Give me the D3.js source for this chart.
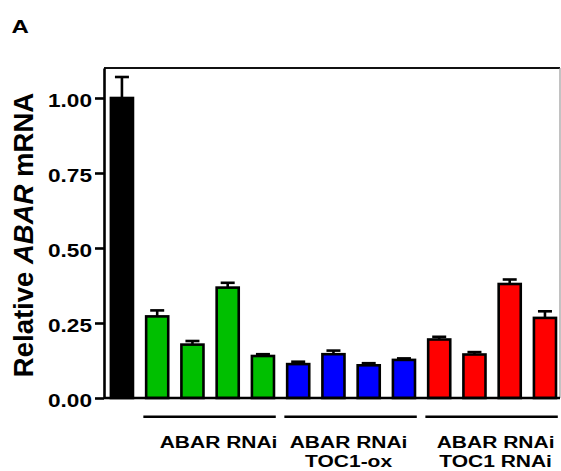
<!DOCTYPE html>
<html>
<head>
<meta charset="utf-8">
<script src="https://cdn.jsdelivr.net/npm/d3@7/dist/d3.min.js"></script>
<style>
  html, body { margin: 0; padding: 0; background: #fff; }
  svg { display: block; font-family: "Liberation Sans", Arial, Helvetica, sans-serif; }
</style>
</head>
<body>
<script>
// Samples, in plotting order
const samples = ["control", "abar-1", "abar-2", "abar-3", "abar-4",
                 "abar-ox-1", "abar-ox-2", "abar-ox-3", "abar-ox-4",
                 "abar-toc-1", "abar-toc-2", "abar-toc-3", "abar-toc-4"];
const sampleGroup = ["control", "abar", "abar", "abar", "abar",
                     "abarOx", "abarOx", "abarOx", "abarOx",
                     "abarToc", "abarToc", "abarToc", "abarToc"];
// Relative ABAR mRNA (mean) and standard error
const means = [1.00, 0.272, 0.178, 0.368, 0.140,
               0.113, 0.146, 0.109, 0.127,
               0.195, 0.145, 0.380, 0.267];
const errors = [0.07, 0.020, 0.012, 0.016, 0.006,
                0.008, 0.012, 0.007, 0.005,
                0.009, 0.008, 0.015, 0.022];
// Underlined sample groups and their labels
const groupKeys = ["abar", "abarOx", "abarToc"];
const groupLabels = [["ABAR RNAi"], ["ABAR RNAi", "TOC1-ox"], ["ABAR RNAi", "TOC1 RNAi"]];
const yTicks = [0, 0.25, 0.50, 0.75, 1.00];

const W = 561, H = 471;
const svg = d3.select("body").append("svg").attr("width", W).attr("height", H);

const color = d3.scaleOrdinal()
  .domain(["control", "abar", "abarOx", "abarToc"])
  .range(["#000000", "#00bf00", "#0000ff", "#ff0000"]);

const axisX = 104, plotRight = 560;
const x = d3.scaleBand().domain(samples).range([109.6, 557.3]).paddingInner(0.3).paddingOuter(0);
const y = d3.scaleLinear().domain([0, 1.1]).range([398, 68]);
const sw = 2.6;

// frame: top in black, right edge in grey
svg.append("line").attr("x1", axisX).attr("x2", plotRight).attr("y1", y(1.1)).attr("y2", y(1.1))
  .attr("stroke", "#111").attr("stroke-width", 2.2);
svg.append("line").attr("x1", plotRight).attr("x2", plotRight).attr("y1", y(1.1)).attr("y2", y(0))
  .attr("stroke", "#9a9a9a").attr("stroke-width", 1.2);

// error bars (upper only)
const eb = svg.append("g").attr("stroke", "#000").attr("stroke-width", sw).attr("fill", "none");
samples.forEach((s, i) => {
  const cx = x(s) + x.bandwidth() / 2;
  eb.append("line").attr("x1", cx).attr("x2", cx).attr("y1", y(means[i])).attr("y2", y(means[i] + errors[i]));
  eb.append("line").attr("x1", cx - 7).attr("x2", cx + 7).attr("y1", y(means[i] + errors[i])).attr("y2", y(means[i] + errors[i]));
});

// bars
svg.append("g").selectAll("rect").data(samples).join("rect")
  .attr("x", d => x(d) + sw / 2)
  .attr("width", x.bandwidth() - sw)
  .attr("y", (d, i) => y(means[i]))
  .attr("height", (d, i) => y(0) - y(means[i]))
  .attr("fill", (d, i) => color(sampleGroup[i]))
  .attr("stroke", "#000").attr("stroke-width", sw);

// bottom baseline
svg.append("line").attr("x1", axisX).attr("x2", plotRight).attr("y1", y(0)).attr("y2", y(0))
  .attr("stroke", "#000").attr("stroke-width", sw);

// y axis
const yAxis = svg.append("g").attr("transform", `translate(${axisX},0)`)
  .call(d3.axisLeft(y).tickValues(yTicks).tickSize(9).tickSizeOuter(0).tickFormat(d3.format(".2f")));
yAxis.select(".domain").attr("stroke", "#000").attr("stroke-width", sw);
yAxis.selectAll(".tick line").attr("stroke", "#000").attr("stroke-width", sw);
yAxis.selectAll(".tick text")
  .attr("fill", "#000")
  .attr("font-family", "'Liberation Sans', Arial, sans-serif")
  .attr("font-size", 19).attr("font-weight", "bold")
  .attr("x", -12 / 1.19).attr("dy", 8.2)
  .attr("transform", "scale(1.19,1)");

// y-axis title
const title = svg.append("text")
  .attr("transform", `translate(33,${(y(0) + y(1.1)) / 2 + 2}) rotate(-90)`)
  .attr("text-anchor", "middle").attr("font-size", 27.5).attr("font-weight", "bold").attr("fill", "#000");
title.append("tspan").text("Relative ");
title.append("tspan").attr("font-style", "italic").text("ABAR");
title.append("tspan").text(" mRNA");

// panel letter
svg.append("text").attr("transform", "translate(11.5,33.3) scale(1.3,1)")
  .attr("font-size", 18.5).attr("font-weight", "bold").text("A");

// group underlines and labels
const labelShift = [9, -2, 4];
groupKeys.forEach((g, gi) => {
  const members = samples.filter((s, i) => sampleGroup[i] === g);
  const x0 = x(members[0]) - 1.5;
  const x1 = x(members[members.length - 1]) + x.bandwidth() + 0.5;
  svg.append("line").attr("x1", x0).attr("x2", x1).attr("y1", 416.7).attr("y2", 416.7)
    .attr("stroke", "#000").attr("stroke-width", 2.6);
  const cx = (x0 + x1) / 2 + labelShift[gi];
  groupLabels[gi].forEach((line, li) => {
    svg.append("text")
      .attr("transform", `translate(${cx},${448 + li * 19.2}) scale(1.235,1)`)
      .attr("text-anchor", "middle").attr("font-size", 17).attr("font-weight", "bold")
      .attr("fill", "#000").text(line);
  });
});
</script>
</body>
</html>
